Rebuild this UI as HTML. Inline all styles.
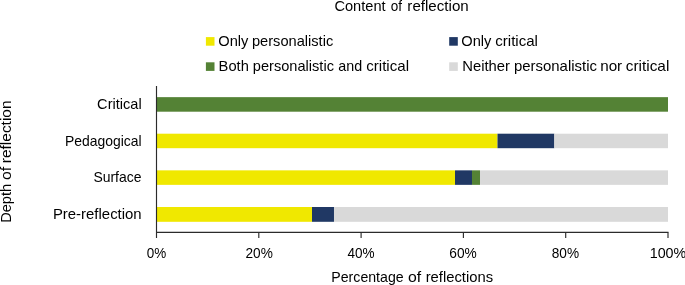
<!DOCTYPE html>
<html lang="en"><head><meta charset="utf-8"><title>Content of reflection</title>
<style>
html,body{margin:0;padding:0;background:#fff;}
body{width:685px;height:285px;overflow:hidden;}
svg{display:block;will-change:transform;}
text{font-family:"Liberation Sans",sans-serif;font-size:14.4px;fill:#000;white-space:pre;}
</style></head><body>
<svg width="685" height="285" viewBox="0 0 685 285">
<rect x="0" y="0" width="685" height="285" fill="#fff"/>
<rect x="205.9" y="37.1" width="8.6" height="8.6" fill="#F0E800"/>
<rect x="449.2" y="37.1" width="8.6" height="8.6" fill="#203864"/>
<rect x="205.9" y="62.3" width="8.6" height="8.6" fill="#548235"/>
<rect x="449.2" y="62.3" width="8.6" height="8.6" fill="#D9D9D9"/>
<rect x="156.50" y="97.15" width="511.50" height="14.55" fill="#548235"/>
<rect x="156.50" y="133.7" width="341.00" height="14.50" fill="#F0E800"/>
<rect x="497.50" y="133.7" width="56.83" height="14.50" fill="#203864"/>
<rect x="554.33" y="133.7" width="113.67" height="14.50" fill="#D9D9D9"/>
<rect x="156.50" y="170.35" width="298.51" height="14.50" fill="#F0E800"/>
<rect x="455.01" y="170.35" width="16.98" height="14.50" fill="#203864"/>
<rect x="471.99" y="170.35" width="8.03" height="14.50" fill="#548235"/>
<rect x="480.02" y="170.35" width="187.98" height="14.50" fill="#D9D9D9"/>
<rect x="156.50" y="207.0" width="155.50" height="14.80" fill="#F0E800"/>
<rect x="312.00" y="207.0" width="21.99" height="14.80" fill="#203864"/>
<rect x="333.99" y="207.0" width="334.01" height="14.80" fill="#D9D9D9"/>
<path d="M156.5 86 V238" stroke="#2b2b2b" stroke-width="1.15" fill="none"/>
<path d="M156.0 232.4 H668.5" stroke="#2b2b2b" stroke-width="1.15" fill="none"/>
<path d="M258.80 232.4 V238" stroke="#2b2b2b" stroke-width="1.15" fill="none"/>
<path d="M361.10 232.4 V238" stroke="#2b2b2b" stroke-width="1.15" fill="none"/>
<path d="M463.40 232.4 V238" stroke="#2b2b2b" stroke-width="1.15" fill="none"/>
<path d="M565.70 232.4 V238" stroke="#2b2b2b" stroke-width="1.15" fill="none"/>
<path d="M668.00 232.4 V238" stroke="#2b2b2b" stroke-width="1.15" fill="none"/>
<text y="10.5"><tspan x="334.44" textLength="51.20" lengthAdjust="spacingAndGlyphs">Content</tspan> <tspan x="390.73" textLength="11.27" lengthAdjust="spacingAndGlyphs">of</tspan> <tspan x="407.37" textLength="61.38" lengthAdjust="spacingAndGlyphs">reflection</tspan></text>
<text y="46.2"><tspan x="218.24" textLength="30.14" lengthAdjust="spacingAndGlyphs">Only</tspan> <tspan x="251.95" textLength="81.32" lengthAdjust="spacingAndGlyphs">personalistic</tspan></text>
<text y="46.2"><tspan x="461.32" textLength="30.10" lengthAdjust="spacingAndGlyphs">Only</tspan> <tspan x="495.27" textLength="42.66" lengthAdjust="spacingAndGlyphs">critical</tspan></text>
<text y="71.3"><tspan x="218.62" textLength="30.25" lengthAdjust="spacingAndGlyphs">Both</tspan> <tspan x="252.85" textLength="81.12" lengthAdjust="spacingAndGlyphs">personalistic</tspan> <tspan x="338.24" textLength="23.91" lengthAdjust="spacingAndGlyphs">and</tspan> <tspan x="366.22" textLength="42.77" lengthAdjust="spacingAndGlyphs">critical</tspan></text>
<text y="71.3"><tspan x="462.25" textLength="47.71" lengthAdjust="spacingAndGlyphs">Neither</tspan> <tspan x="513.97" textLength="82.98" lengthAdjust="spacingAndGlyphs">personalistic</tspan> <tspan x="600.21" textLength="21.99" lengthAdjust="spacingAndGlyphs">nor</tspan> <tspan x="625.80" textLength="43.51" lengthAdjust="spacingAndGlyphs">critical</tspan></text>
<text y="109.1"><tspan x="97.14" textLength="44.53" lengthAdjust="spacingAndGlyphs">Critical</tspan></text>
<text y="145.8"><tspan x="65.09" textLength="76.58" lengthAdjust="spacingAndGlyphs">Pedagogical</tspan></text>
<text y="182.1"><tspan x="93.42" textLength="48.10" lengthAdjust="spacingAndGlyphs">Surface</tspan></text>
<text y="219.0"><tspan x="52.90" textLength="88.77" lengthAdjust="spacingAndGlyphs">Pre-reflection</tspan></text>
<text y="258.3"><tspan x="146.65" textLength="19.50" lengthAdjust="spacingAndGlyphs">0%</tspan></text>
<text y="258.3"><tspan x="245.46" textLength="27.35" lengthAdjust="spacingAndGlyphs">20%</tspan></text>
<text y="258.3"><tspan x="347.39" textLength="27.12" lengthAdjust="spacingAndGlyphs">40%</tspan></text>
<text y="258.3"><tspan x="449.28" textLength="27.45" lengthAdjust="spacingAndGlyphs">60%</tspan></text>
<text y="258.3"><tspan x="551.75" textLength="27.30" lengthAdjust="spacingAndGlyphs">80%</tspan></text>
<text y="258.3"><tspan x="649.69" textLength="36.60" lengthAdjust="spacingAndGlyphs">100%</tspan></text>
<text y="282.0"><tspan x="331.31" textLength="72.35" lengthAdjust="spacingAndGlyphs">Percentage</tspan> <tspan x="408.00" textLength="13.19" lengthAdjust="spacingAndGlyphs">of</tspan> <tspan x="425.66" textLength="67.43" lengthAdjust="spacingAndGlyphs">reflections</tspan></text>
<text transform="translate(10.8 222.0) rotate(-90)" y="0"><tspan x="-0.88" textLength="39.06" lengthAdjust="spacingAndGlyphs">Depth</tspan> <tspan x="41.93" textLength="13.14" lengthAdjust="spacingAndGlyphs">of</tspan> <tspan x="58.82" textLength="62.75" lengthAdjust="spacingAndGlyphs">reflection</tspan></text>
</svg>
</body></html>
